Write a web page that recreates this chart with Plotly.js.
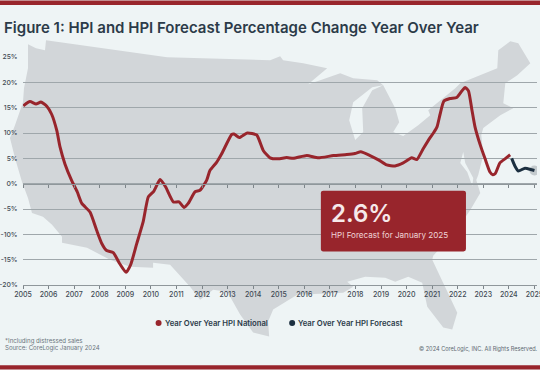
<!DOCTYPE html>
<html>
<head>
<meta charset="utf-8">
<script src="https://cdn.plot.ly/plotly-3.0.1.min.js"></script>
<style>html,body{margin:0;padding:0;background:#eef4f5;overflow:hidden}</style>
</head>
<body>
<div id="chart" style="width:540px;height:370px"></div>
<script>
const nationalYears = [2005.01,2005.27,2005.51,2005.70,2005.93,2006.12,2006.32,2006.45,2006.64,2006.90,2007.12,2007.30,2007.62,2007.88,2008.08,2008.27,2008.53,2008.77,2009.03,2009.21,2009.45,2009.70,2009.90,2010.12,2010.36,2010.58,2010.88,2011.10,2011.30,2011.46,2011.73,2011.92,2012.18,2012.31,2012.57,2012.77,2013.16,2013.25,2013.46,2013.77,2014.14,2014.40,2014.66,2014.98,2015.31,2015.57,2016.10,2016.55,2017.14,2017.66,2017.98,2018.21,2018.57,2018.90,2019.22,2019.55,2019.87,2020.20,2020.40,2020.65,2020.92,2021.05,2021.19,2021.31,2021.46,2021.70,2021.96,2022.16,2022.29,2022.42,2022.55,2022.68,2022.87,2023.07,2023.26,2023.37,2023.47,2023.65,2023.85,2024.05];
const nationalValues = [15.35,16.2,15.7,16.1,15.3,13.7,10.5,7.2,3.9,0.65,-1.6,-3.9,-5.6,-9.2,-11.8,-13.2,-13.6,-15.7,-17.5,-16,-11.8,-7.5,-2.6,-1.45,0.8,-0.67,-3.6,-3.6,-4.7,-3.9,-1.6,-1.3,0.65,2.6,4.2,5.9,9.7,9.8,9.1,10,9.6,6.5,5.1,4.9,5.15,5,5.55,5.1,5.55,5.75,5.95,6.3,5.55,4.7,3.7,3.5,4.1,5.1,4.76,6.9,9.1,10,11.2,13.7,16.3,16.8,17,18.3,19,18.3,14.7,11.1,7.8,4.9,2.3,1.76,2,4.1,4.9,5.7];
const forecastYears = [2024.11,2024.24,2024.37,2024.63,2024.89,2025.0];
const forecastValues = [5,3.45,2.5,3.05,2.75,2.6];
const xTicks = [2005,2006,2007,2008,2009,2010,2011,2012,2013,2014,2015,2016,2017,2018,2019,2020,2021,2022,2023,2024,2025];
const yTicks = [-20,-15,-10,-5,0,5,10,15,20,25];
const yLabels = ['-20%','-15%','-10%','-5%','0%','5%','10%','15%','20%','25%'];

// decorative backdrop outline, in page pixels
const landOutline = [[28,44],[36,48],[45,50],[46,40],[167,57],[270,60],[280,56],[283,60],[303,63],[327,68],[308,84],[320,80],[340,73],[353,78],[377,80],[383,85],[395,108],[399,122],[393,132],[403,136],[418,125],[430,115],[428,110],[455,88],[460,83],[497,68],[498,50],[510,41],[518,43],[530,63],[517,75],[505,83],[503,103],[513,108],[500,115],[483,128],[481,135],[483,155],[478,175],[476,180],[480,193],[470,210],[455,232],[433,256],[432,260],[457,313],[452,330],[443,328],[427,307],[422,283],[408,277],[395,282],[385,278],[365,277],[347,282],[353,287],[343,293],[297,295],[273,310],[268,322],[269,337],[253,333],[240,315],[230,297],[227,292],[213,290],[200,300],[190,287],[170,265],[153,263],[153,268],[130,267],[110,260],[87,248],[62,243],[62,237],[52,225],[43,217],[32,213],[28,198],[22,182],[15,158],[10,138],[15,125],[23,102],[24,88],[28,68]];
const lakeMichigan = [[372,87],[383,85],[372,90],[362,108],[363,132],[355,140],[349,120],[353,102]];
const chesapeake = [[463,152],[465,163],[473,178],[472,186],[467,172],[460,163]];

const W = 540, H = 370;
const m = {l:23, r:3.3, t:56.7, b:84.7};
const fx = x => (x - m.l) / (W - m.l - m.r);
const fy = y => 1 - (y - m.t) / (H - m.t - m.b);
const polyPath = p => 'M' + p.map(q => fx(q[0]).toFixed(4) + ',' + fy(q[1]).toFixed(4)).join('L') + 'Z';
const pShape = (x0,y0,x1,y1,color,extra) => Object.assign({type:'rect',xref:'paper',yref:'paper',x0:fx(x0),x1:fx(x1),y0:fy(y0),y1:fy(y1),fillcolor:color,line:{width:0}},extra||{});
const dot = (cx,cy,color) => pShape(cx-3,cy-3,cx+3,cy+3,color,{type:'circle',layer:'above'});
function roundRect(x0,y0,x1,y1,r){
  const X=fx, Y=fy;
  return `M${X(x0+r)},${Y(y0)}L${X(x1-r)},${Y(y0)}Q${X(x1)},${Y(y0)} ${X(x1)},${Y(y0+r)}L${X(x1)},${Y(y1-r)}Q${X(x1)},${Y(y1)} ${X(x1-r)},${Y(y1)}L${X(x0+r)},${Y(y1)}Q${X(x0)},${Y(y1)} ${X(x0)},${Y(y1-r)}L${X(x0)},${Y(y0+r)}Q${X(x0)},${Y(y0)} ${X(x0+r)},${Y(y0)}Z`;
}

const RED = '#98252c', NAVY = '#1c2f40', BG = '#eef4f5', FONT = 'Inter, "Open Sans", sans-serif';
const txt = (text,x,y,size,color,anchor,weight) => ({
  text, x:fx(x), y:fy(y), xref:'paper', yref:'paper', showarrow:false,
  xanchor:anchor||'left', yanchor:'middle', align:anchor||'left',
  font:{family:FONT,size,color,weight:weight||400}, borderpad:0, borderwidth:0
});

const traces = [
  {x:nationalYears, y:nationalValues, name:'Year Over Year HPI National', type:'scatter', mode:'lines',
   line:{color:RED,width:3,shape:'spline',smoothing:0.5}, hoverinfo:'x+y'},
  {x:[forecastYears[forecastYears.length-1]], y:[forecastValues[forecastValues.length-1]], xaxis:'x2', type:'scatter', mode:'markers',
   marker:{size:10,color:'#8d979d',opacity:0.45}, showlegend:false, hoverinfo:'skip'},
  {x:forecastYears, y:forecastValues, xaxis:'x2', name:'Year Over Year HPI Forecast', type:'scatter', mode:'lines',
   line:{color:NAVY,width:3,shape:'spline',smoothing:0.5}, hoverinfo:'x+y'}
];

const xBase = {range:[2005,2025.1], tickvals:xTicks, showgrid:false, zeroline:false, showline:true,
  linecolor:'#8f979b', linewidth:1, ticks:'outside', ticklen:3, tickcolor:'#7d858a', tickwidth:1};

const layout = {
  width:W, height:H, margin:m, paper_bgcolor:BG, plot_bgcolor:'rgba(0,0,0,0)', showlegend:false,
  title:{text:'Figure 1: HPI and HPI Forecast Percentage Change Year Over Year', xref:'container', yref:'container',
    x:4/W, xanchor:'left', y:1-28/H, yanchor:'middle', automargin:false,
    font:{family:FONT,size:15,color:'#2c3b49',weight:600}},
  xaxis:Object.assign({}, xBase, {ticktext:xTicks.map(String), tickfont:{family:FONT,size:7,color:'#3f4a54',weight:500}, tickangle:0, ticklabeloverflow:'allow'}),
  xaxis2:Object.assign({}, xBase, {overlaying:'x', anchor:'free', position:20/45, side:'bottom', showticklabels:false}),
  yaxis:{range:[-20,25], tickvals:yTicks, ticktext:yLabels, showline:false, zeroline:false, showgrid:true,
    gridcolor:'#9fa7ab', gridwidth:1, ticks:'outside', ticklen:3, tickcolor:'rgba(0,0,0,0)',
    tickfont:{family:FONT,size:6.8,color:'#3f4a54',weight:500}},
  shapes:[
    {type:'path',xref:'paper',yref:'paper',path:polyPath(landOutline),fillcolor:'#d2d6d9',line:{width:0},layer:'below'},
    {type:'path',xref:'paper',yref:'paper',path:polyPath(lakeMichigan),fillcolor:BG,line:{width:0},layer:'below'},
    {type:'path',xref:'paper',yref:'paper',path:polyPath(chesapeake),fillcolor:BG,line:{width:0},layer:'below'},
    pShape(0,0,540,4.5,RED,{layer:'above'}),
    pShape(0,365.7,540,370,RED,{layer:'above'}),
    {type:'path',xref:'paper',yref:'paper',path:roundRect(320.7,190.7,465.7,251.7,2.5),fillcolor:RED,line:{width:0},layer:'above'},
    dot(158.5,323.5,RED),
    dot(292,323.5,NAVY)
  ],
  annotations:[
    txt('2.6%',330.5,213.5,24,'#f6e9ea','left',600),
    txt('HPI Forecast for January 2025',330.5,235,8.1,'#f0d5d7','left',400),
    txt('Year Over Year HPI National',165,323.5,7.7,'#2c3b49','left',600),
    txt('Year Over Year HPI Forecast',298,323.5,7.7,'#2c3b49','left',600),
    txt('*Including distressed sales',5,341,6.1,'#6a757d'),
    txt('Source: CoreLogic January 2024',5,348.5,6.05,'#6a757d'),
    txt('\u00A9 2024 CoreLogic, INC. All Rights Reserved.',538,348.5,5.6,'#5d6870','right')
  ]
};
Plotly.newPlot('chart', traces, layout, {displayModeBar:false, responsive:false});
</script>
</body>
</html>
